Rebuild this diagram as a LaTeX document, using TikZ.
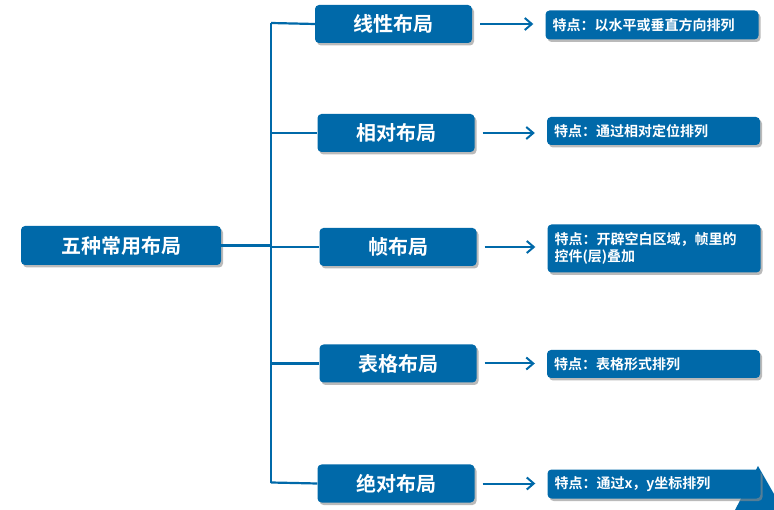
\documentclass[tikz,border=0pt]{standalone}
\usepackage{fontspec}
\setmainfont{Noto Sans CJK SC}
\newfontfamily\cjkb{Noto Sans CJK SC Bold}
\usetikzlibrary{shadows,arrows.meta}
\definecolor{mblue}{HTML}{0069A9}
\tikzset{
  base/.style={fill=mblue, rounded corners=4pt, inner sep=0pt, text=white,
    drop shadow={shadow xshift=2pt, shadow yshift=-2.5pt, fill=black!45, opacity=0.6}},
  rootbox/.style={base, minimum width=200pt, minimum height=39pt, font=\cjkb\fontsize{20}{24}\selectfont},
  layoutbox/.style={base, minimum width=157pt, minimum height=38pt, font=\cjkb\fontsize{20}{24}\selectfont},
  notebox/.style={base, minimum width=213pt, text width=199pt, align=left, font=\cjkb\fontsize{14}{17}\selectfont},
  trunk/.style={draw=mblue, line width=2.2pt},
  arr/.style={draw=mblue, line width=2pt, -{Straight Barb[length=7pt,width=12pt,line width=2pt]}}
}
\begin{document}
\begin{tikzpicture}[x=1pt,y=-1pt]
\useasboundingbox (0,0) rectangle (774,510);
\fill[mblue] (758,466) -- (774,494) -- (774,510) -- (735,510) -- cycle;

\node[rootbox] (root) at (121,245.5) {五种常用布局};
\node[layoutbox] (c1) at (393.5,24) {线性布局};
\node[layoutbox] (c2) at (396,133) {相对布局};
\node[layoutbox] (c3) at (398,247) {帧布局};
\node[layoutbox] (c4) at (398,363.5) {表格布局};
\node[layoutbox] (c5) at (396,483.5) {绝对布局};

\node[notebox, minimum height=29pt] (n1) at (652,25) {特点：以水平或垂直方向排列};
\node[notebox, minimum height=28pt] (n2) at (653.5,131) {特点：通过相对定位排列};
\node[notebox, minimum height=48pt] (n3) at (654,248.5) {特点：开辟空白区域，帧里的\\控件(层)叠加};
\node[notebox, minimum height=28pt] (n4) at (653.5,364) {特点：表格形式排列};
\node[notebox, minimum height=29pt] (n5) at (654,484) {特点：通过x，y坐标排列};

\coordinate (t0) at (271,245.5);
\coordinate (t1) at (271,23);
\coordinate (t5) at (271,482.5);
\draw[trunk] (t1) -- (t5);
\draw[trunk] (root.east) -- (t0);
\draw[trunk] (t1) -- (c1.west);
\draw[trunk] (c2.west -| t0) -- (c2.west);
\draw[trunk] (c3.west -| t0) -- (c3.west);
\draw[trunk] (c4.west -| t0) -- (c4.west);
\draw[trunk] (t5) -- (c5.west);

\foreach \i in {1,...,5} {
  \draw[arr] ([xshift=8pt]c\i.east) -- ([xshift=-12pt]c\i.east -| n\i.west);
}
\end{tikzpicture}
\end{document}
